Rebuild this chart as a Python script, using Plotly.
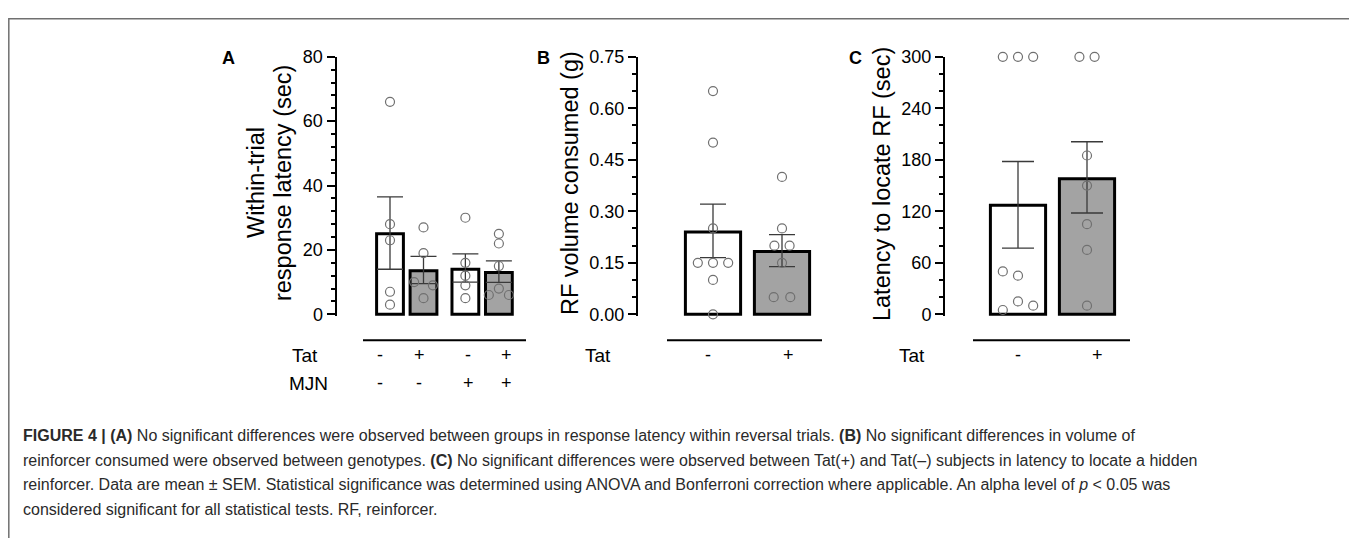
import plotly.graph_objects as go

# figure size and the observed placement of the figure in the photographed page
W, H = 1349, 545
OX = 8.0            # horizontal page offset of the figure
OY, SY = 17.3, 0.965  # observed vertical offset / scale of the figure in the picture

# ---------------- data ----------------
# Panel A: within-trial response latency (sec)
a_groups = ["Tat- MJN-", "Tat+ MJN-", "Tat- MJN+", "Tat+ MJN+"]
a_pos = [0, 1, 2.25, 3.25]
a_means = [25.0, 13.5, 14.0, 13.0]
a_upper = [36.5, 18.0, 18.8, 16.6]
a_lower = [14.0, 9.5, 10.0, 9.9]
a_points = [[66, 28, 23, 7, 3],
            [27, 19, 10, 9, 5],
            [30, 16, 12, 9, 5],
            [25, 22, 15, 8, 6, 6]]
a_jitter = [[0, 0, 0, 0, 0],
            [0, 0, -0.28, 0.28, 0],
            [0, 0, 0, 0, 0],
            [0, 0, 0, 0, -0.3, 0.3]]
a_tat = ["-", "+", "-", "+"]
a_mjn = ["-", "-", "+", "+"]

# Panel B: RF volume consumed (g)
b_pos = [0, 1]
b_means = [0.24, 0.183]
b_upper = [0.321, 0.232]
b_lower = [0.165, 0.139]
b_points = [[0.65, 0.50, 0.25, 0.15, 0.15, 0.15, 0.10, 0.00],
            [0.40, 0.25, 0.20, 0.20, 0.15, 0.05, 0.05]]
b_jitter = [[0, 0, 0, -0.22, 0, 0.22, 0, 0],
            [0, 0, -0.11, 0.11, 0, -0.12, 0.12]]
b_tat = ["-", "+"]

# Panel C: latency to locate RF (sec)
c_pos = [0, 1]
c_means = [127, 158]
c_upper = [178, 201]
c_lower = [77, 118]
c_points = [[300, 300, 300, 50, 45, 15, 10, 5],
            [300, 300, 185, 150, 105, 75, 10]]
c_jitter = [[-0.22, 0, 0.22, -0.22, 0, 0, 0.22, -0.22],
            [-0.11, 0.11, 0, 0, 0, 0, 0]]
c_tat = ["-", "+"]

bar_colors_a = ["white", "#a3a3a3", "white", "#a3a3a3"]
bar_colors_bc = ["white", "#a3a3a3"]

FONT = "Liberation Sans, Arial, sans-serif"


def px(x):
    return (x - OX) / W


def py(y):
    return 1 - (y - OY) / SY / H


fig = go.Figure()


def add_panel(xa, ya, pos, means, up, lo, pts, jit, colors, capw):
    fig.add_trace(go.Bar(
        x=pos, y=means, width=0.8, xaxis=xa, yaxis=ya,
        marker=dict(color=colors, line=dict(color="black", width=3)),
        error_y=dict(type="data", symmetric=False,
                     array=[u - m for u, m in zip(up, means)],
                     arrayminus=[m - l for m, l in zip(means, lo)],
                     color="#3a3a3a", thickness=1.3, width=capw),
        showlegend=False, hoverinfo="skip"))
    xs, ys = [], []
    for p, vals, js in zip(pos, pts, jit):
        for v, j in zip(vals, js):
            xs.append(p + j)
            ys.append(v)
    fig.add_trace(go.Scatter(
        x=xs, y=ys, mode="markers", xaxis=xa, yaxis=ya, cliponaxis=False,
        marker=dict(symbol="circle-open", size=9, color="#707070",
                    line=dict(width=1.2, color="#707070")),
        showlegend=False, hoverinfo="skip"))


add_panel("x", "y", a_pos, a_means, a_upper, a_lower, a_points, a_jitter, bar_colors_a, 13)
add_panel("x2", "y2", b_pos, b_means, b_upper, b_lower, b_points, b_jitter, bar_colors_bc, 13)
add_panel("x3", "y3", c_pos, c_means, c_upper, c_lower, c_points, c_jitter, bar_colors_bc, 16)

# geometry (reference pixels)
y_top, y_zero = 56.0, 313.0
pad = 2.0
ydom = [py(y_zero + pad), py(y_top)]


def yax(maxv, dtick, minor, fmt=None):
    span = y_zero - y_top
    d = dict(domain=ydom, range=[-pad / span * maxv, maxv],
             showline=True, linecolor="black", linewidth=2,
             ticks="outside", ticklen=8, tickwidth=2, tickcolor="black",
             dtick=dtick, tick0=0, showgrid=False, zeroline=False,
             tickfont=dict(family=FONT, size=18, color="black"),
             minor=dict(dtick=minor, tick0=0, ticks="outside", ticklen=4,
                        tickwidth=2, tickcolor="black", showgrid=False),
             fixedrange=True)
    if fmt:
        d["tickformat"] = fmt
    return d


def xax(x0px, x1px, centerpx, unitpx, anchor):
    return dict(domain=[px(x0px), px(x1px)],
                range=[-(centerpx - x0px) / unitpx, (x1px - centerpx) / unitpx],
                visible=False, anchor=anchor, fixedrange=True)


fig.update_layout(
    width=W, height=H, margin=dict(l=0, r=0, t=0, b=0),
    paper_bgcolor="white", plot_bgcolor="white",
    font=dict(family=FONT, color="black"),
    xaxis=xax(336.5, 530, 390, 33.5, "y"),
    yaxis=dict(yax(80, 20, 4), anchor="x"),
    xaxis2=xax(638, 830, 713, 69, "y2"),
    yaxis2=dict(yax(0.75, 0.15, 0.05, ".2f"), anchor="x2"),
    xaxis3=xax(945, 1135, 1018, 69, "y3"),
    yaxis3=dict(yax(300, 60, 20), anchor="x3"),
)

shapes = []
# baselines under panels
for x0, x1 in [(363, 526), (667, 822), (973, 1130)]:
    shapes.append(dict(type="line", xref="paper", yref="paper",
                       x0=px(x0), x1=px(x1), y0=py(339), y1=py(339),
                       line=dict(color="black", width=2)))
# frame around the figure
shapes.append(dict(type="rect", xref="paper", yref="paper",
                   x0=0.0006, x1=px(1351.5), y0=-0.05, y1=0.9986,
                   line=dict(color="#707070", width=1.5)))
fig.update_layout(shapes=shapes)

ann = []


def txt(x, y, s, size=17, bold=False, xanchor="center", **kw):
    color = kw.pop("color", "black")
    ann.append(dict(x=x, y=y, xref="paper", yref="paper", text=("<b>%s</b>" % s if bold else s),
                    showarrow=False, xanchor=xanchor, yanchor="middle",
                    font=dict(family=FONT, size=size, color=color), **kw))


# panel letters
txt(px(228), py(57), "A", size=18, bold=True)
txt(px(543), py(57), "B", size=18, bold=True)
txt(px(855), py(57), "C", size=18, bold=True)

# axis titles
txt(px(256), py(182), "Within-trial", size=23.5, textangle=-90)
txt(px(283), py(182), "response latency (sec)", size=23.5, textangle=-90)
txt(px(570), py(182), "RF volume consumed (g)", size=23.5, textangle=-90)
txt(px(882), py(183), "Latency to locate RF (sec)", size=23.5, textangle=-90)

# group rows
row1, row2 = 354, 382
txt(px(305), py(row1), "Tat", size=19)
txt(px(308), py(row2), "MJN", size=19)


def sign(x, xref, y, s):
    ann.append(dict(x=x, y=py(y), xref=xref, yref="paper", text=s, showarrow=False,
                    xanchor="center", yanchor="middle",
                    font=dict(family=FONT, size=18, color="black")))


a_label_x = [-0.30, 0.87, 2.33, 3.49]
for lx, t, m in zip(a_label_x, a_tat, a_mjn):
    sign(lx, "x", row1, t)
    sign(lx, "x", row2, m)
txt(px(598), py(row1), "Tat", size=19)
for lx, t in zip([-0.07, 1.1], b_tat):
    sign(lx, "x2", row1, t)
txt(px(912), py(row1), "Tat", size=19)
for lx, t in zip([0, 1.15], c_tat):
    sign(lx, "x3", row1, t)

# caption
cap = [
    "<b>FIGURE 4 | (A)</b> No significant differences were observed between groups in response latency within reversal trials. <b>(B)</b> No significant differences in volume of",
    "reinforcer consumed were observed between genotypes. <b>(C)</b> No significant differences were observed between Tat(+) and Tat(\u2013) subjects in latency to locate a hidden",
    "reinforcer. Data are mean \u00b1 SEM. Statistical significance was determined using ANOVA and Bonferroni correction where applicable. An alpha level of <i>p</i> &lt; 0.05 was",
    "considered significant for all statistical tests. RF, reinforcer.",
]
for i, line in enumerate(cap):
    txt(px(21), py(434 + i * 24.5), line, size=16, xanchor="left", color="#2a2a2a")

fig.update_layout(annotations=ann)
fig.write_html("out.html")
